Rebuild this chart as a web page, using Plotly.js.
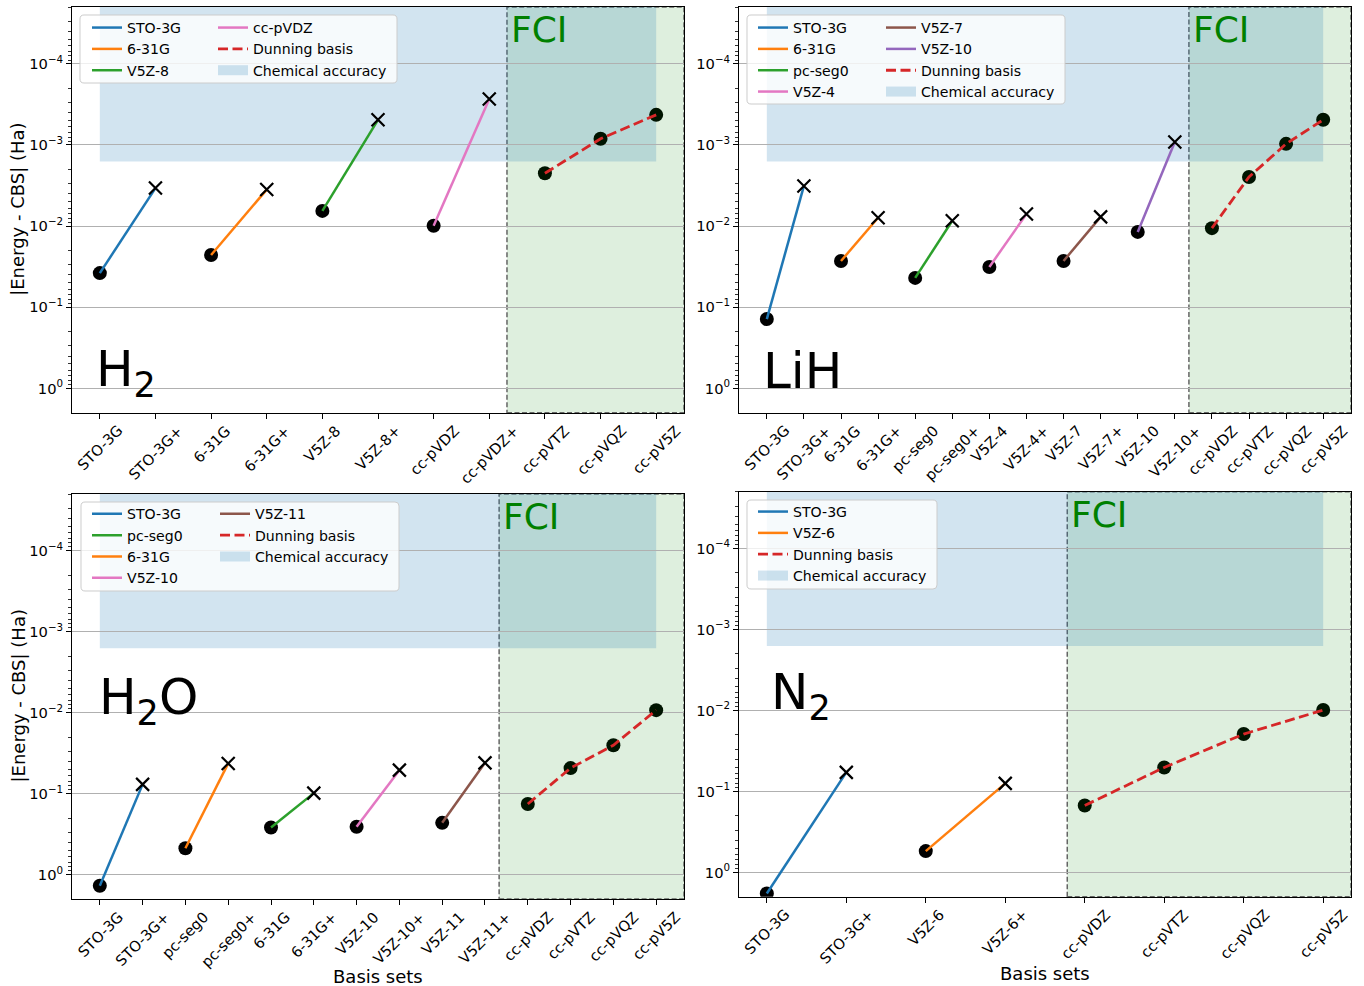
<!DOCTYPE html>
<html><head><meta charset="utf-8">
<script src="https://cdn.plot.ly/plotly-3.0.1.min.js"></script>
<style>html,body{margin:0;padding:0;background:#fff}#chart{width:1364px;height:986px}</style>
</head><body><div id="chart"></div>
<script>
// ---------------- DATA ----------------
const chemicalAccuracy = 1.6e-3;   // Ha
const dunningLabel = 'Dunning basis';
const chemLabel = 'Chemical accuracy';

// H2
const h2Basis = ['STO-3G','STO-3G+','6-31G','6-31G+','V5Z-8','V5Z-8+','cc-pVDZ','cc-pVDZ+','cc-pVTZ','cc-pVQZ','cc-pV5Z'];
const h2Error = [0.038, 3.4e-3, 0.0227, 3.55e-3, 6.5e-3, 4.9e-4, 9.9e-3, 2.72e-4, 2.23e-3, 8.4e-4, 4.26e-4];
const h2Pairs = ['STO-3G','6-31G','V5Z-8','cc-pVDZ'];
const h2PairColors = ['#1f77b4','#ff7f0e','#2ca02c','#e377c2'];
const h2Dunning = ['cc-pVTZ','cc-pVQZ','cc-pV5Z'];
const h2LegendNames = ['STO-3G','6-31G','V5Z-8','cc-pVDZ'];
const h2LegendColors = ['#1f77b4','#ff7f0e','#2ca02c','#e377c2'];

// LiH
const lihBasis = ['STO-3G','STO-3G+','6-31G','6-31G+','pc-seg0','pc-seg0+','V5Z-4','V5Z-4+','V5Z-7','V5Z-7+','V5Z-10','V5Z-10+','cc-pVDZ','cc-pVTZ','cc-pVQZ','cc-pV5Z'];
const lihError = [0.140, 3.2e-3, 0.0269, 7.9e-3, 0.0435, 8.6e-3, 0.0319, 7.1e-3, 0.0269, 7.7e-3, 0.0118, 9.2e-4, 0.0106, 2.48e-3, 9.7e-4, 4.9e-4];
const lihPairs = ['STO-3G','6-31G','pc-seg0','V5Z-4','V5Z-7','V5Z-10'];
const lihPairColors = ['#1f77b4','#ff7f0e','#2ca02c','#e377c2','#8c564b','#9467bd'];
const lihDunning = ['cc-pVDZ','cc-pVTZ','cc-pVQZ','cc-pV5Z'];
const lihLegendNames = ['STO-3G','6-31G','pc-seg0','V5Z-4','V5Z-7','V5Z-10'];
const lihLegendColors = ['#1f77b4','#ff7f0e','#2ca02c','#e377c2','#8c564b','#9467bd'];

// H2O
const h2oBasis = ['STO-3G','STO-3G+','pc-seg0','pc-seg0+','6-31G','6-31G+','V5Z-10','V5Z-10+','V5Z-11','V5Z-11+','cc-pVDZ','cc-pVTZ','cc-pVQZ','cc-pV5Z'];
const h2oError = [1.37, 0.0767, 0.472, 0.0423, 0.261, 0.0984, 0.256, 0.0512, 0.229, 0.0416, 0.134, 0.0483, 0.0252, 9.3e-3];
const h2oPairs = ['STO-3G','pc-seg0','6-31G','V5Z-10','V5Z-11'];
const h2oPairColors = ['#1f77b4','#ff7f0e','#2ca02c','#e377c2','#8c564b'];
const h2oDunning = ['cc-pVDZ','cc-pVTZ','cc-pVQZ','cc-pV5Z'];
const h2oLegendNames = ['STO-3G','pc-seg0','6-31G','V5Z-10','V5Z-11'];
const h2oLegendColors = ['#1f77b4','#2ca02c','#ff7f0e','#e377c2','#8c564b'];

// N2
const n2Basis = ['STO-3G','STO-3G+','V5Z-6','V5Z-6+','cc-pVDZ','cc-pVTZ','cc-pVQZ','cc-pV5Z'];
const n2Error = [1.82, 0.0582, 0.546, 0.0796, 0.149, 0.0506, 0.0196, 9.9e-3];
const n2Pairs = ['STO-3G','V5Z-6'];
const n2PairColors = ['#1f77b4','#ff7f0e'];
const n2Dunning = ['cc-pVDZ','cc-pVTZ','cc-pVQZ','cc-pV5Z'];
const n2LegendNames = ['STO-3G','V5Z-6'];
const n2LegendColors = ['#1f77b4','#ff7f0e'];

const yTickVals = [1e-4, 1e-3, 1e-2, 1e-1, 1];
const yTickText = ['10<sup>−4</sup>','10<sup>−3</sup>','10<sup>−2</sup>','10<sup>−1</sup>','10<sup>0</sup>'];

// ---------------- LAYOUT HELPERS ----------------
const W = 1364, H = 986;
const px = v => v / W;
const py = v => 1 - v / H;
const FONT = 'DejaVu Sans, Liberation Sans, sans-serif';
const TICK_SIZE = 14.7, LEG_SIZE = 14.1, TITLE_SIZE = 18;
const dunningColor = '#d62728';
const chemColor = 'rgba(31,119,180,0.2)';

const panels = [
  {mol:'H<sub>2</sub>', basis:h2Basis, err:h2Error, pairs:h2Pairs, pairColors:h2PairColors, dunning:h2Dunning,
   legNames:h2LegendNames, legColors:h2LegendColors, cols:2,
   box:[72,7,684,412.7], fci:7.318, legBox:[80,15,397,83], legText:[127,253], legY:27,
   molPos:[94,372], yTitle:true, xTitle:false},
  {mol:'LiH', basis:lihBasis, err:lihError, pairs:lihPairs, pairColors:lihPairColors, dunning:lihDunning,
   legNames:lihLegendNames, legColors:lihLegendColors, cols:2,
   box:[739,7,1351,412.7], fci:11.38, legBox:[747,15,1065,104], legText:[793,921], legY:27,
   molPos:[761,371], yTitle:false, xTitle:false},
  {mol:'H<sub>2</sub>O', basis:h2oBasis, err:h2oError, pairs:h2oPairs, pairColors:h2oPairColors, dunning:h2oDunning,
   legNames:h2oLegendNames, legColors:h2oLegendColors, cols:2,
   box:[72,494,684,899], fci:9.33, legBox:[81,502,399,591], legText:[127,255], legY:513.3,
   molPos:[97,700], yTitle:true, xTitle:true, xTitleY:976.5},
  {mol:'N<sub>2</sub>', basis:n2Basis, err:n2Error, pairs:n2Pairs, pairColors:n2PairColors, dunning:n2Dunning,
   legNames:n2LegendNames, legColors:n2LegendColors, cols:1,
   box:[739,491.7,1351,896.7], fci:3.78, legBox:[747,500,937,589], legText:[793], legY:511,
   molPos:[769,695], yTitle:false, xTitle:true, xTitleY:973.3}
];

function roundRectPath(x0,y0,x1,y1,r){
  const X = v => px(v).toFixed(5), Y = v => py(v).toFixed(5);
  return `M${X(x0+r)},${Y(y0)} L${X(x1-r)},${Y(y0)} Q${X(x1)},${Y(y0)} ${X(x1)},${Y(y0+r)} `+
         `L${X(x1)},${Y(y1-r)} Q${X(x1)},${Y(y1)} ${X(x1-r)},${Y(y1)} L${X(x0+r)},${Y(y1)} `+
         `Q${X(x0)},${Y(y1)} ${X(x0)},${Y(y1-r)} L${X(x0)},${Y(y0+r)} Q${X(x0)},${Y(y0)} ${X(x0+r)},${Y(y0)} Z`;
}

const minorVals = [];
for (let d = -6; d <= 0; d++) for (let m = 2; m <= 9; m++) minorVals.push(m * Math.pow(10, d));

const traces = [], shapes = [], annotations = [];
const layout = {
  width: W, height: H, autosize: false,
  margin: {l:0, r:0, t:0, b:0, pad:0},
  paper_bgcolor: '#ffffff', plot_bgcolor: 'rgba(0,0,0,0)',
  font: {family: FONT, size: 14, color: '#000'},
  showlegend: true
};

let legendCounter = 0;
panels.forEach((p, k) => {
  const sfx = k === 0 ? '' : String(k + 1);
  const xa = 'x' + sfx, ya = 'y' + sfx;
  const n = p.basis.length;
  const idx = name => p.basis.indexOf(name);
  const [bx0, by0, bx1, by1] = p.box;
  const xmin = -0.05 * (n - 1), xmax = 1.05 * (n - 1);

  layout['xaxis' + sfx] = {
    domain: [px(bx0), px(bx1)], anchor: ya, range: [xmin, xmax],
    tickmode: 'array', tickvals: p.basis.map((_, i) => i), ticktext: p.basis,
    showticklabels: false,
    ticks: 'outside', ticklen: 5, tickwidth: 1, tickcolor: '#000',
    showline: true, linecolor: '#000', linewidth: 1, mirror: true,
    showgrid: false, zeroline: false, fixedrange: true
  };
  layout['yaxis' + sfx] = {
    domain: [py(by1), py(by0)], anchor: xa, type: 'log', range: [0.30, -4.70],
    tickmode: 'array', tickvals: yTickVals, ticktext: yTickText,
    ticks: 'outside', ticklen: 5, tickwidth: 1, tickcolor: '#000',
    tickfont: {family: FONT, size: TICK_SIZE, color: '#000'},
    showline: true, linecolor: '#000', linewidth: 1, mirror: true,
    showgrid: true, gridcolor: '#b0b0b0', gridwidth: 1, zeroline: false, fixedrange: true,
    minor: {tickmode: 'array', tickvals: minorVals, ticks: 'outside', ticklen: 2.8,
            tickwidth: 0.8, tickcolor: '#000', showgrid: false}
  };

  // rotated category labels, centred under each tick (matplotlib-style)
  p.basis.forEach((b, i) => {
    annotations.push({
      xref: xa, yref: ya + ' domain', x: i, y: 0, xanchor: 'center', yanchor: 'top',
      yshift: -8, textangle: -45, showarrow: false, text: b,
      font: {family: FONT, size: TICK_SIZE, color: '#000'}, borderpad: 0
    });
  });

  // circles (reference points)
  const circleIdx = p.basis.map((b, i) => i).filter(i => !p.basis[i].endsWith('+'));
  traces.push({
    type: 'scatter', mode: 'markers', xaxis: xa, yaxis: ya, showlegend: false, hoverinfo: 'skip',
    x: circleIdx, y: circleIdx.map(i => p.err[i]),
    marker: {symbol: 'circle', size: 14, color: circleIdx.map(i => i > p.fci ? '#001400' : '#000000'), line: {width: 0}}
  });
  // paired segments
  p.pairs.forEach((b, j) => {
    const i0 = idx(b), i1 = idx(b + '+');
    traces.push({
      type: 'scatter', mode: 'lines', xaxis: xa, yaxis: ya, showlegend: false, hoverinfo: 'skip',
      x: [i0, i1], y: [p.err[i0], p.err[i1]],
      line: {color: p.pairColors[j], width: 2.5}
    });
  });
  // Dunning series
  const dIdx = p.dunning.map(idx);
  traces.push({
    type: 'scatter', mode: 'lines', xaxis: xa, yaxis: ya, showlegend: false, hoverinfo: 'skip',
    x: dIdx, y: dIdx.map(i => p.err[i]),
    line: {color: dunningColor, width: 2.8, dash: '10px,4.5px'}
  });
  // crosses (augmented basis sets)
  const plusIdx = p.basis.map((b, i) => i).filter(i => p.basis[i].endsWith('+'));
  traces.push({
    type: 'scatter', mode: 'markers', xaxis: xa, yaxis: ya, showlegend: false, hoverinfo: 'skip',
    x: plusIdx, y: plusIdx.map(i => p.err[i]),
    marker: {symbol: 'x-thin', size: 13, color: '#000', line: {width: 2.2, color: '#000'}}
  });

  // legends (legend-only entries)
  const entries = p.legNames.map((nm, j) => ({name: nm, color: p.legColors[j], dash: 'solid', width: 2.5}));
  entries.push({name: dunningLabel, color: dunningColor, dash: '10px,4.5px', width: 2.8});
  entries.push({name: chemLabel, color: chemColor, dash: 'solid', width: 10});
  const perCol = Math.ceil(entries.length / p.cols);
  const legNames = [];
  for (let c = 0; c < p.cols; c++) {
    legendCounter++;
    const lname = legendCounter === 1 ? 'legend' : 'legend' + legendCounter;
    legNames.push(lname);
    layout[lname] = {
      x: px(p.legText[c] - 40), y: py(p.legY - 15.1), xanchor: 'left', yanchor: 'top',
      xref: 'paper', yref: 'paper', bgcolor: 'rgba(0,0,0,0)', borderwidth: 0,
      font: {family: FONT, size: LEG_SIZE, color: '#000'}, traceorder: 'normal', orientation: 'v'
    };
  }
  entries.forEach((e, j) => {
    traces.push({
      type: 'scatter', mode: 'lines', xaxis: xa, yaxis: ya, x: [null], y: [null],
      name: e.name, legend: legNames[Math.floor(j / perCol)], legendrank: j + 1,
      showlegend: true, hoverinfo: 'skip',
      line: {color: e.color, width: e.width, dash: e.dash}
    });
  });

  // chemical accuracy band
  shapes.push({
    type: 'rect', xref: xa, yref: ya, x0: 0, x1: n - 1, y0: chemicalAccuracy, y1: 1e-8,
    fillcolor: chemColor, line: {width: 0}, layer: 'below'
  });
  // FCI region
  shapes.push({
    type: 'rect', xref: xa, yref: ya + ' domain', x0: p.fci, x1: xmax, y0: 0, y1: 1,
    fillcolor: 'rgba(0,128,0,0.13)', line: {width: 1.5, color: 'rgba(85,85,85,0.9)', dash: '5px,2.5px'},
    layer: 'below'
  });
  // legend frame
  const [lx0, ly0, lx1, ly1] = p.legBox;
  shapes.push({
    type: 'path', xref: 'paper', yref: 'paper', layer: 'above',
    path: roundRectPath(lx0, ly0, lx1, ly1, 4),
    fillcolor: 'rgba(255,255,255,0.8)', line: {color: '#cccccc', width: 1}
  });

  annotations.push({
    xref: xa, yref: ya + ' domain', x: p.fci, y: 1, xanchor: 'left', yanchor: 'top',
    xshift: 2, yshift: 0, showarrow: false, text: 'FCI',
    font: {family: FONT, size: 36, color: '#008000'}
  });
  annotations.push({
    xref: 'paper', yref: 'paper', x: px(p.molPos[0]), y: py(p.molPos[1]),
    xanchor: 'left', yanchor: 'middle', showarrow: false, text: p.mol,
    font: {family: FONT, size: 50, color: '#000'}
  });
  if (p.yTitle) {
    annotations.push({
      xref: 'paper', yref: 'paper', x: px(18), y: py((by0 + by1) / 2), textangle: -90,
      xanchor: 'center', yanchor: 'middle', showarrow: false, text: '|Energy - CBS| (Ha)',
      font: {family: FONT, size: TITLE_SIZE, color: '#000'}
    });
  }
  if (p.xTitle) {
    annotations.push({
      xref: 'paper', yref: 'paper', x: px((bx0 + bx1) / 2), y: py(p.xTitleY),
      xanchor: 'center', yanchor: 'middle', showarrow: false, text: 'Basis sets',
      font: {family: FONT, size: TITLE_SIZE, color: '#000'}
    });
  }
});

layout.shapes = shapes;
layout.annotations = annotations;

Plotly.newPlot('chart', traces, layout, {staticPlot: true, displayModeBar: false});
</script>
</body></html>
